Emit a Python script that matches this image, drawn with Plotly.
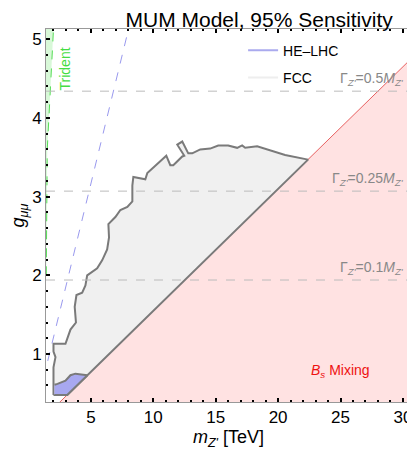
import plotly.graph_objects as go

# Bs mixing exclusion (region below the line)
bs_m = [0.0, 32.0, 32.0]
bs_g = [0.0, 4.96, 0.0]

# FCC sensitivity contour
fcc_m = [2.0, 3.1, 22.4, 20.56, 18.32, 17.36, 17.12, 16.72, 16.0, 15.2, 14.56, 13.76,
         13.12, 12.8, 12.32, 11.92, 12.48, 12.32, 11.6, 11.36, 11.04, 10.16, 9.52, 9.36,
         8.4, 8.32, 8.32, 7.92, 7.36, 6.96, 6.4, 6.45, 6.3, 5.9, 5.5, 4.7, 4.56, 4.3,
         3.84, 3.7, 3.8, 3.36, 3.12, 2.96, 2.0, 2.0, 2.16, 2.0, 2.0]
fcc_g = [0.48, 0.48, 3.47, 3.53, 3.64, 3.62, 3.65, 3.62, 3.65, 3.65, 3.61, 3.60,
         3.55, 3.55, 3.70, 3.66, 3.52, 3.51, 3.40, 3.40, 3.52, 3.39, 3.30, 3.22,
         3.25, 3.14, 2.94, 2.87, 2.83, 2.74, 2.65, 2.48, 2.33, 2.19, 2.09, 2.0, 1.87, 1.78,
         1.75, 1.6, 1.4, 1.31, 1.19, 1.13, 1.13, 1.03, 0.96, 0.83, 0.48]

# HE-LHC sensitivity contour
he_m = [2.08, 3.1, 4.72, 3.76, 3.36, 2.96, 2.32, 2.08]
he_g = [0.48, 0.48, 0.73, 0.75, 0.73, 0.66, 0.62, 0.61]

# HE-LHC dashed reach line
he_line_m = [1.2, 8.2]
he_line_g = [0.69, 5.25]

# Trident exclusion (left of the curve)
tri_m = [1.0, 1.42, 1.5, 2.0, 2.05, 1.0]
tri_g = [2.0, 2.0, 3.6, 5.13, 5.3, 5.3]

# width/mass contours
width_g = [4.34, 3.07, 1.94]
width_labels = ["0.5", "0.25", "0.1"]

X_RANGE = [1.4, 30.65]
Y_RANGE = [0.39, 5.13]
FONT = "Liberation Sans, Arial, sans-serif"
GRAY = "#7a7a7a"

fig = go.Figure()

fig.add_trace(go.Scatter(
    x=bs_m, y=bs_g, mode="lines", fill="toself",
    fillcolor="rgb(255,226,226)", line=dict(color="rgba(225,60,60,0.8)", width=1),
    showlegend=False, hoverinfo="skip",
))
fig.add_trace(go.Scatter(
    x=tri_m, y=tri_g, mode="lines", fill="toself",
    fillcolor="rgba(200,245,200,0.7)", line=dict(color="rgba(0,0,0,0)", width=0),
    showlegend=False, hoverinfo="skip",
))
fig.add_trace(go.Scatter(
    x=tri_m[1:5], y=tri_g[1:5], mode="lines",
    line=dict(color="#55dd55", width=1, dash="dash"),
    showlegend=False, hoverinfo="skip",
))
fig.add_trace(go.Scatter(
    x=fcc_m, y=fcc_g, mode="lines", fill="toself",
    fillcolor="#f0f0f0", line=dict(color=GRAY, width=2),
    showlegend=False, hoverinfo="skip",
))
fig.add_trace(go.Scatter(
    x=he_m, y=he_g, mode="lines", fill="toself",
    fillcolor="rgb(168,168,240)", line=dict(color=GRAY, width=2),
    showlegend=False, hoverinfo="skip",
))
fig.add_trace(go.Scatter(
    x=he_line_m, y=he_line_g, mode="lines",
    line=dict(color="#9999ee", width=1, dash="dash"),
    showlegend=False, hoverinfo="skip",
))

for g in width_g:
    fig.add_trace(go.Scatter(
        x=X_RANGE, y=[g, g], mode="lines",
        line=dict(color="#bbbbbb", width=1, dash="dash"),
        showlegend=False, hoverinfo="skip",
    ))
for g, lbl in zip(width_g, width_labels):
    fig.add_annotation(
        x=0.985, xref="paper", y=g, yref="y", yanchor="bottom", xanchor="right",
        yshift=1,
        text=f"Γ<sub><i>Z'</i></sub>={lbl}<i>M</i><sub><i>Z'</i></sub>",
        showarrow=False, font=dict(family=FONT, size=14, color="#888888"),
    )

# legend entries
fig.add_trace(go.Scatter(
    x=[None], y=[None], mode="lines", name="HE\u2013LHC", legendgroup="a",
    line=dict(color="#aaaaee", width=2),
))
fig.add_trace(go.Scatter(
    x=[None], y=[None], mode="lines", name="FCC", legendgroup="b",
    line=dict(color="#eeeeee", width=2),
))

fig.add_annotation(
    x=25.0, y=0.78, text="<i>B<sub>s</sub></i> Mixing", showarrow=False,
    font=dict(family=FONT, size=14, color="#ee1111"),
)
fig.add_annotation(
    x=2.95, y=4.62, text="Trident", showarrow=False, textangle=-90,
    font=dict(family=FONT, size=14, color="#44dd44"),
)

axis_common = dict(
    showgrid=False, zeroline=False, showline=True, linecolor="#999999", linewidth=1,
    mirror="allticks", ticks="inside", ticklen=4, tickcolor="#000000", tickwidth=1.5,
    tickfont=dict(family=FONT, size=17, color="#000000"), automargin=False,
)
fig.update_xaxes(
    range=X_RANGE, tickvals=[5, 10, 15, 20, 25, 30],
    minor=dict(dtick=1, tick0=0, ticks="inside", ticklen=2, tickcolor="#000000"),
    title=dict(text="<i>m</i><sub><i>Z'</i></sub> [TeV]",
               font=dict(family=FONT, size=18, color="#000000"), standoff=4),
    **axis_common,
)
fig.update_yaxes(
    range=Y_RANGE, tickvals=[1, 2, 3, 4, 5],
    minor=dict(dtick=0.2, tick0=0, ticks="inside", ticklen=2, tickcolor="#000000"),
    title=dict(text="<i>g</i><sub><i>μμ</i></sub>",
               font=dict(family=FONT, size=18, color="#000000"), standoff=4),
    **axis_common,
)

# the page adds an 8px body margin, so the figure is 8px smaller on each leading side
fig.update_layout(
    width=407, height=442,
    margin=dict(l=38, r=4, t=21, b=48, autoexpand=False),
    paper_bgcolor="white", plot_bgcolor="white",
    title=dict(text="MUM Model, 95% Sensitivity", x=0.617, xanchor="center",
               y=0.974, yanchor="middle", automargin=False,
               font=dict(family=FONT, size=21, color="#000000")),
    legend=dict(x=0.54, y=0.985, xanchor="left", yanchor="top",
                bgcolor="rgba(0,0,0,0)", font=dict(family=FONT, size=14, color="#000000"),
                tracegroupgap=6, traceorder="grouped", itemwidth=30),
    showlegend=True,
)

fig.write_html("out.html")
